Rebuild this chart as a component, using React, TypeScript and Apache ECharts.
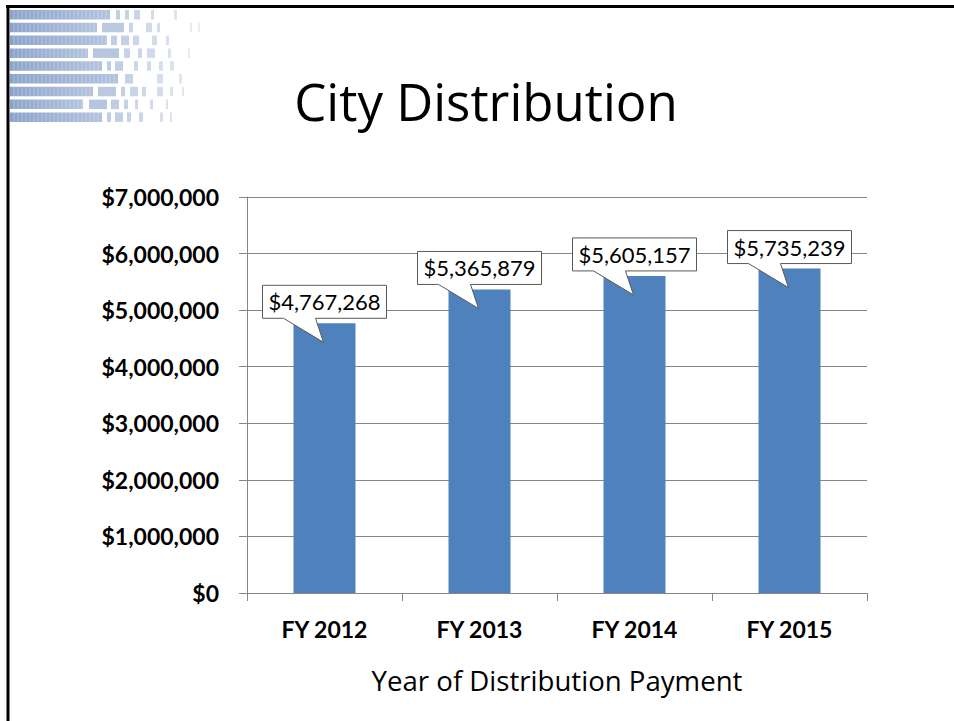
import React, { useEffect, useRef } from "react";
import * as echarts from "echarts";

const categories = ["FY 2012", "FY 2013", "FY 2014", "FY 2015"];
const values = [4767268, 5365879, 5605157, 5735239];
const yTicks = { min: 0, max: 7000000, interval: 1000000 };
const titleText = "City Distribution";
const xAxisName = "Year of Distribution Payment";

const FONT = "Lato, 'Open Sans', sans-serif";
const FONT2 = "'Open Sans', 'Noto Sans', sans-serif";

const fmt = (v: number) => "$" + Math.round(v).toLocaleString("en-US");

// decorative logo rows: [solid length, trailing blocks [x, w]]
const logoRows: [number, [number, number][]][] = [
  [110, [[116, 4], [125, 4], [134, 6], [151, 3], [174, 3]]],
  [97, [[102, 22], [129, 4], [146, 6], [157, 3], [190, 2], [198, 2]]],
  [107, [[111, 6], [121, 8], [133, 6], [152, 5], [166, 3]]],
  [88, [[93, 26], [124, 6], [138, 4], [147, 8], [168, 3], [188, 2]]],
  [102, [[107, 4], [115, 8], [134, 4], [147, 4], [159, 4], [170, 4]]],
  [118, [[125, 8], [157, 6], [179, 3]]],
  [93, [[98, 18], [121, 4], [130, 8], [142, 4], [157, 6], [170, 3], [182, 2]]],
  [83, [[89, 18], [111, 8], [124, 4], [135, 3], [150, 3], [166, 2]]],
  [102, [[107, 4], [115, 8], [127, 4], [139, 4], [160, 3], [170, 2]]],
];

export default function App() {
  const ref = useRef<HTMLDivElement>(null);
  useEffect(() => {
    if (!ref.current) return;
    const chart = echarts.init(ref.current, null, { renderer: "svg" });

    const logo: any[] = [];
    logoRows.forEach(([len, blocks], i) => {
      const y = 10 + i * 12.8;
      logo.push({
        type: "rect",
        shape: { x: 10, y, width: len - 10, height: 9.5 },
        style: {
          fill: new echarts.graphic.LinearGradient(0, 0, 1, 0, [
            { offset: 0, color: "#8aa2cb" },
            { offset: 1, color: "#b3c3de" },
          ]),
        },
        silent: true,
      });
      for (let k = 14; k < len; k += 4) {
        logo.push({
          type: "line",
          shape: { x1: k, y1: y, x2: k, y2: y + 9.5 },
          style: { stroke: "rgba(255,255,255,0.3)", lineWidth: 1 },
          silent: true,
        });
      }
      blocks.forEach(([bx, bw]) => {
        const t = Math.min(1, (bx - 90) / 110);
        logo.push({
          type: "rect",
          shape: { x: bx, y, width: bw, height: 9.5 },
          style: { fill: "#a9bbd9", opacity: 0.85 - 0.6 * t },
          silent: true,
        });
      });
    });

    chart.setOption({
      animation: false,
      backgroundColor: "#ffffff",
      grid: { left: 247, right: 87, top: 197, bottom: 128, containLabel: false },
      xAxis: {
        type: "category",
        data: categories,
        boundaryGap: true,
        axisLine: { show: true, lineStyle: { color: "#868686", width: 1 } },
        axisTick: { show: true, length: 8, alignWithLabel: false, lineStyle: { color: "#868686" } },
        axisLabel: { color: "#000", fontFamily: FONT, fontWeight: "bold", fontSize: 23, margin: 24 },
        name: xAxisName,
        nameLocation: "middle",
        nameGap: 73,
        nameTextStyle: { color: "#000", fontFamily: FONT2, fontSize: 27.6 },
      },
      yAxis: {
        type: "value",
        min: yTicks.min,
        max: yTicks.max,
        interval: yTicks.interval,
        axisLine: { show: true, lineStyle: { color: "#868686", width: 1 } },
        axisTick: { show: true, length: 8, lineStyle: { color: "#868686" } },
        axisLabel: {
          color: "#000",
          fontFamily: FONT,
          fontWeight: "bold",
          fontSize: 23,
          margin: 28,
          formatter: (v: number) => fmt(v),
        },
        splitLine: { show: true, lineStyle: { color: "#868686", width: 1 } },
      },
      series: [
        {
          type: "bar",
          data: values,
          barWidth: "40%",
          itemStyle: { color: "#4f81bd" },
          z: 2,
        },
        {
          type: "custom",
          data: values.map((v, i) => [i, v]),
          encode: { x: 0, y: 1 },
          z: 5,
          renderItem: (params: any, api: any) => {
            const p = api.coord([api.value(0), api.value(1)]);
            const cx = p[0];
            const top = p[1];
            const bottom = top - 5;
            const hw = 62;
            const h = 33;
            const points = [
              [cx - hw, bottom - h],
              [cx + hw, bottom - h],
              [cx + hw, bottom],
              [cx - 9, bottom],
              [cx - 1, top + 19],
              [cx - 41, bottom],
              [cx - hw, bottom],
            ];
            return {
              type: "group",
              children: [
                {
                  type: "polygon",
                  shape: { points },
                  style: { fill: "#ffffff", stroke: "#595959", lineWidth: 1 },
                },
                {
                  type: "text",
                  style: {
                    text: fmt(api.value(1)),
                    x: cx,
                    y: bottom - h / 2,
                    align: "center",
                    verticalAlign: "middle",
                    fontFamily: FONT,
                    fontSize: 22,
                    fill: "#000",
                  },
                },
              ],
            };
          },
        },
      ],
      graphic: [
        ...logo,
        {
          type: "line",
          shape: { x1: 6, y1: 6.5, x2: 954, y2: 6.5 },
          style: { stroke: "#000", lineWidth: 3 },
          silent: true,
          z: 10,
        },
        {
          type: "line",
          shape: { x1: 8, y1: 5, x2: 8, y2: 721 },
          style: { stroke: "#000", lineWidth: 3 },
          silent: true,
          z: 10,
        },
        {
          type: "text",
          x: 486,
          y: 101,
          style: {
            text: titleText,
            align: "center",
            verticalAlign: "middle",
            fontFamily: FONT2,
            fontSize: 51,
            fill: "#000",
          },
          silent: true,
        },
      ],
    });
    return () => chart.dispose();
  }, []);
  return (
    <div
      ref={ref}
      style={{ position: "absolute", left: 0, top: 0, width: 954, height: 721 }}
    />
  );
}
